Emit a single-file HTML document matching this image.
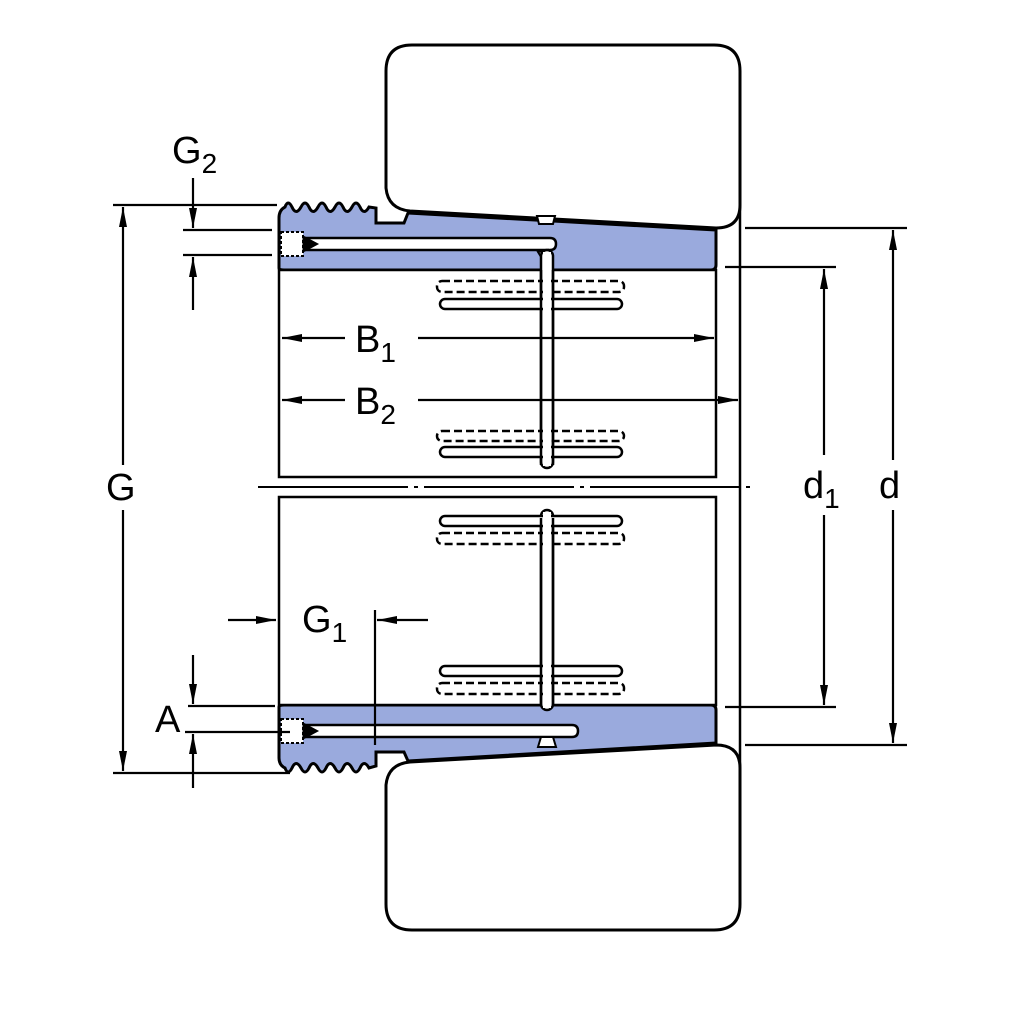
<!DOCTYPE html>
<html><head><style>html,body{margin:0;padding:0;background:#fff}svg{display:block}
text{font-family:"Liberation Sans",sans-serif;fill:#000}</style></head><body>
<svg width="1024" height="1024" viewBox="0 0 1024 1024" xmlns="http://www.w3.org/2000/svg">
<defs>
<marker id="ar" viewBox="0 0 20 8" refX="20" refY="4" markerWidth="20" markerHeight="8" orient="auto-start-reverse" markerUnits="userSpaceOnUse"><path d="M0,0 L20,4 L0,8 Z" fill="#000"/></marker>
</defs>
<g fill="none" stroke="#000" stroke-width="3">
<path d="M412,45 H714 Q740,45 740,71 V205 Q740,228 716,228 L410,211 Q388,209 386,188 V71 Q386,45 412,45 Z" fill="#fff"/>
<path d="M412,930 H714 Q740,930 740,904 V768 Q740,745 716,745 L410,762 Q388,764 386,785 V904 Q386,930 412,930 Z" fill="#fff"/>
<line x1="740" y1="205" x2="740" y2="768" stroke-width="2.5"/>
<path d="M279,268 V218 Q279,210 285,207 Q288,199 292,207 Q296,216 301,207 Q305,199 309,207 Q313,216 318,207 Q322,199 326,207 Q330,216 335,207 Q339,199 343,207 Q347,216 352,207 Q356,199 360,207 Q364,216 369,207 L376,208 V223 H404 L408,213 L716,230 V265 Q716,270 711,270 H284 Q279,270 279,268 Z" fill="#9aaadd"/>
<path d="M279,707 V758 Q279,765 285,768 Q288,776 292,768 Q296,759 301,768 Q305,776 309,768 Q313,759 318,768 Q322,776 326,768 Q330,759 335,768 Q339,776 343,768 Q347,759 352,768 Q356,776 360,768 Q364,759 369,768 L376,766 V752 H404 L408,761 L716,743 V710 Q716,705 711,705 H284 Q279,705 279,707 Z" fill="#9aaadd"/>
<rect x="279" y="270" width="437" height="207" fill="#fff" stroke-width="2.5"/>
<rect x="279" y="497" width="437" height="208" fill="#fff" stroke-width="2.5"/>
<path d="M305,238 H550 Q556,238 556,244 Q556,250 550,250 H305 Z" fill="#fff" stroke-width="2.5"/>
<path d="M305,725 H572 Q578,725 578,731 Q578,737 572,737 H305 Z" fill="#fff" stroke-width="2.5"/>
<path d="M538,252 L548,268 L548,250 Z" fill="#fff" stroke-width="2"/>
<rect x="541" y="250" width="12" height="218" rx="6" fill="#fff" stroke-width="2.5"/>
<rect x="541" y="510" width="12" height="200" rx="6" fill="#fff" stroke-width="2.5"/>
<path d="M541,737 h12 l3,10 h-18 Z" fill="#fff" stroke-width="2"/>
<path d="M539,224 h14 l2,-8 h-18 Z" fill="#fff" stroke-width="2"/>
<rect x="281" y="232" width="22" height="24" fill="#fff" stroke-width="2" stroke-dasharray="3,2"/>
<path d="M303,236 L318,244 L303,252 Z" fill="#000" stroke-width="1"/>
<rect x="281" y="719" width="22" height="24" fill="#fff" stroke-width="2" stroke-dasharray="3,2"/>
<path d="M303,723 L318,731 L303,739 Z" fill="#000" stroke-width="1"/>
<g stroke-width="2.5">
<rect x="437" y="281" width="187" height="11" rx="5" stroke-dasharray="8,4" fill="none"/>
<rect x="440" y="299" width="182" height="10" rx="5" fill="#fff"/>
<rect x="437" y="431" width="187" height="10" rx="5" stroke-dasharray="8,4" fill="none"/>
<rect x="440" y="447" width="182" height="10" rx="5" fill="#fff"/>
<rect x="440" y="516" width="182" height="10" rx="5" fill="#fff"/>
<rect x="437" y="533" width="187" height="11" rx="5" stroke-dasharray="8,4" fill="none"/>
<rect x="440" y="666" width="182" height="10" rx="5" fill="#fff"/>
<rect x="437" y="683" width="187" height="11" rx="5" stroke-dasharray="8,4" fill="none"/>
</g>
<rect x="543" y="252" width="8" height="214" fill="#fff" stroke="none"/>
<line x1="541" y1="270" x2="541" y2="465" stroke-width="2.5"/><line x1="553" y1="270" x2="553" y2="465" stroke-width="2.5"/>
<rect x="543" y="512" width="8" height="196" fill="#fff" stroke="none"/>
<line x1="541" y1="518" x2="541" y2="706" stroke-width="2.5"/><line x1="553" y1="518" x2="553" y2="706" stroke-width="2.5"/>
<line x1="258" y1="487" x2="755" y2="487" stroke-width="2" stroke-dasharray="150,6,4,6"/>
</g>
<g stroke="#000" stroke-width="2.2" fill="none">
<line x1="113" y1="205" x2="277" y2="205"/>
<line x1="113" y1="773" x2="290" y2="773"/>
<line x1="123" y1="465" x2="123" y2="207" marker-end="url(#ar)"/>
<line x1="123" y1="510" x2="123" y2="771" marker-end="url(#ar)"/>
<line x1="183" y1="230" x2="272" y2="230"/>
<line x1="183" y1="255" x2="272" y2="255"/>
<line x1="193" y1="178" x2="193" y2="228" marker-end="url(#ar)"/>
<line x1="193" y1="310" x2="193" y2="257" marker-end="url(#ar)"/>
<line x1="188" y1="706" x2="275" y2="706"/>
<line x1="185" y1="732" x2="290" y2="732"/>
<line x1="193" y1="655" x2="193" y2="704" marker-end="url(#ar)"/>
<line x1="193" y1="788" x2="193" y2="734" marker-end="url(#ar)"/>
<line x1="228" y1="620" x2="276" y2="620" marker-end="url(#ar)"/>
<line x1="428" y1="620" x2="377" y2="620" marker-end="url(#ar)"/>
<line x1="375" y1="610" x2="375" y2="745"/>
<line x1="345" y1="338" x2="282" y2="338" marker-end="url(#ar)"/>
<line x1="418" y1="338" x2="714" y2="338" marker-end="url(#ar)"/>
<line x1="345" y1="400" x2="282" y2="400" marker-end="url(#ar)"/>
<line x1="418" y1="400" x2="738" y2="400" marker-end="url(#ar)"/>
<line x1="745" y1="228" x2="907" y2="228"/>
<line x1="745" y1="745" x2="907" y2="745"/>
<line x1="725" y1="267" x2="836" y2="267"/>
<line x1="725" y1="707" x2="836" y2="707"/>
<line x1="893" y1="460" x2="893" y2="230" marker-end="url(#ar)"/>
<line x1="893" y1="510" x2="893" y2="743" marker-end="url(#ar)"/>
<line x1="824" y1="455" x2="824" y2="269" marker-end="url(#ar)"/>
<line x1="824" y1="515" x2="824" y2="705" marker-end="url(#ar)"/>
</g>
<g font-size="38">
<text x="172" y="163">G<tspan font-size="28" dy="10">2</tspan></text>
<text x="106" y="500">G</text>
<text x="355" y="352">B<tspan font-size="28" dy="10">1</tspan></text>
<text x="355" y="414">B<tspan font-size="28" dy="10">2</tspan></text>
<text x="302" y="632">G<tspan font-size="28" dy="10">1</tspan></text>
<text x="155" y="732">A</text>
<text x="803" y="498">d<tspan font-size="28" dy="10">1</tspan></text>
<text x="879" y="498">d</text>
</g>
</svg>
</body></html>
